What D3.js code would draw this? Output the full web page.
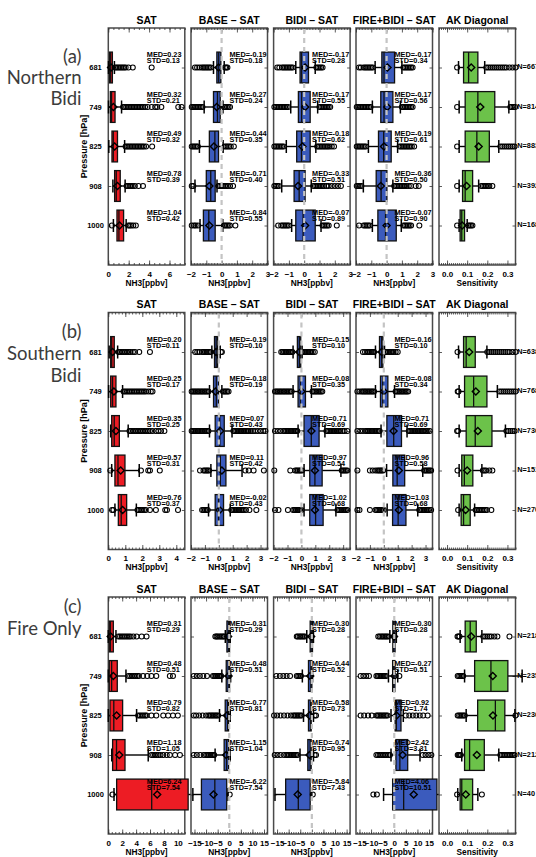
<!DOCTYPE html>
<html><head><meta charset="utf-8">
<script src="https://cdn.jsdelivr.net/npm/d3@7"></script>
<style>
html,body{margin:0;padding:0;background:#fff;}
svg{display:block;}
</style></head><body>
<script>
// ---------- labels ----------
const levels = ["681", "749", "825", "908", "1000"];
const panelTitles = ["SAT", "BASE \u2013 SAT", "BIDI \u2013 SAT", "FIRE+BIDI \u2013 SAT", "AK Diagonal"];
const xLabels = ["NH3[ppbv]", "NH3[ppbv]", "NH3[ppbv]", "NH3[ppbv]", "Sensitivity"];
const regionLabels = [["(a)", "Northern", "Bidi"], ["(b)", "Southern", "Bidi"], ["(c)", "Fire Only"]];

// ---------- axis ranges and ticks (per row: a, b, c) ----------
const satDomains = [[0, 7.5], [0, 4.5], [0, 11]];
const diffDomains = [[-2, 3], [-2, 3.5], [-16.5, 16.5]];
const akDomain = [-0.04, 0.34];
const satTicks = [[0, 2, 4, 6], [0, 1, 2, 3, 4], [0, 2, 4, 6, 8, 10]];
const diffTicks = [[-2, -1, 0, 1, 2, 3], [-2, -1, 0, 1, 2, 3], [-15, -10, -5, 0, 5, 10, 15]];
const akTicks = [0, 0.1, 0.2, 0.3];
const satMinorStep = [0.5, 0.2, 0.5];
const diffMinorStep = [0.1, 0.1, 1];
const akMinorStep = 0.01;

// ---------- (a) Northern Bidi ----------
// MED / STD labels for SAT, BASE-SAT, BIDI-SAT, FIRE+BIDI-SAT (levels 681..1000)
const northernMed = [
  [0.23, 0.32, 0.49, 0.78, 1.04],
  [-0.19, -0.27, -0.44, -0.71, -0.84],
  [-0.17, -0.17, -0.18, -0.33, -0.07],
  [-0.17, -0.17, -0.19, -0.36, -0.07]];
const northernStd = [
  [0.13, 0.21, 0.32, 0.39, 0.42],
  [0.18, 0.24, 0.35, 0.40, 0.55],
  [0.28, 0.55, 0.62, 0.51, 0.89],
  [0.34, 0.56, 0.61, 0.50, 0.90]];
const northernAkMed = [0.107, 0.153, 0.148, 0.09, 0.073];
const northernN = [667, 814, 883, 392, 168];
// box statistics: [whisker low, q1, q3, whisker high, mean]
const northernBoxes = [
  [[0.02, 0.12, 0.4, 0.6, 0.27], [0.02, 0.2, 0.66, 1.3, 0.5], [0.05, 0.36, 0.9, 1.6, 0.62], [0.45, 0.62, 1.17, 1.65, 0.9], [0.5, 0.85, 1.5, 1.75, 1.1]],
  [[-0.53, -0.31, -0.05, 0.17, -0.2], [-1.14, -0.53, -0.09, 0.09, -0.32], [-1.45, -0.8, -0.2, 0.1, -0.5], [-1.74, -1.0, -0.42, -0.3, -0.8], [-1.41, -1.19, -0.42, 0.08, -0.8]],
  [[-0.55, -0.27, 0.28, 0.72, 0.06], [-0.88, -0.38, 0.39, 0.88, 0.06], [-1.17, -0.49, 0.39, 0.76, -0.12], [-1.47, -0.66, 0.06, 0.46, -0.4], [-0.82, -0.55, 0.72, 1.1, 0.06]],
  [[-0.75, -0.31, 0.52, 1.0, 0.06], [-0.93, -0.38, 0.41, 0.9, 0.04], [-1.19, -0.53, 0.3, 0.72, -0.17], [-1.52, -0.68, 0.02, 0.41, -0.38], [-0.93, -0.57, 0.63, 0.96, 0.0]],
  [[0.057, 0.082, 0.153, 0.187, 0.12], [0.06, 0.09, 0.237, 0.307, 0.165], [0.06, 0.09, 0.21, 0.257, 0.157], [0.06, 0.077, 0.127, 0.157, 0.097], [0.06, 0.065, 0.087, 0.1, 0.075]]];
const northernOutliers = [
  [[0.65, 0.8, 0.95, 1.1, 1.25, 1.4, 1.55, 1.7, 1.97, 2.4, 4.25],
   [1.45, 1.6, 1.75, 1.9, 2.05, 2.2, 2.35, 2.5, 2.65, 2.8, 2.95, 3.1, 3.25, 3.4, 3.6, 3.85, 4.25, 4.6, 4.8, 5.2, 6.86, 7.19],
   [1.7, 1.85, 2.0, 2.15, 2.3, 2.45, 2.6, 2.75, 2.9, 3.05, 3.2, 3.35, 3.5, 3.7, 4.3],
   [1.8, 1.95, 2.1, 2.25, 2.4, 2.6, 2.96, 3.4],
   [0.35, 1.95, 2.1, 2.25, 2.45, 2.7]],
  [[-1.74, -1.6, -1.45, -1.3, -1.2, -1.1, -1.0, -0.9, -0.8, -0.7, 0.22, 0.3, 0.38],
   [-1.95, -1.85, -1.75, -1.65, -1.55, -1.45, -1.35, -1.25, 0.15, 0.25, 0.35, 0.45, 0.55],
   [-1.95, -1.85, -1.75, -1.65, -1.55, 0.2, 0.3, 0.4, 0.5, 0.6, 0.8],
   [-1.95, -1.85, -0.2, -0.1, 0.0, 0.1, 0.2, 0.3, 0.4, 0.55, 0.75],
   [-1.95, -1.8, -1.7, -1.55, 0.15, 0.25, 0.35, 0.45, 0.55, 0.9]],
  [[-1.76, -1.62, -1.45, -1.35, -1.25, -1.15, -1.05, -0.95, -0.85, -0.75, 0.8, 0.9, 1.0, 1.1, 1.2],
   [-1.95, -1.85, -1.75, -1.65, -1.55, -1.45, -1.35, -1.25, -1.15, -1.05, 1.0, 1.1, 1.2, 1.3, 1.4, 1.5, 1.6, 1.7],
   [-1.95, -1.85, -1.75, -1.65, -1.55, -1.45, -1.35, 0.85, 0.95, 1.05, 1.15, 1.25, 1.35, 1.45, 1.55, 1.65, 1.8, 1.95],
   [-1.95, -1.85, -1.75, -1.65, 0.6, 0.7, 0.8, 0.9, 1.0, 1.1, 1.2, 1.3, 1.45, 1.6, 1.8, 2.0, 2.2, 2.4],
   [-1.7, -1.5, -1.4, -1.3, -1.2, -1.1, -1.0, 1.2, 1.3, 1.4, 1.5, 1.6, 2.13]],
  [[-1.8, -1.68, -1.5, -1.4, -1.3, -1.2, -1.1, -1.0, -0.9, 1.1, 1.2, 1.3, 1.4, 1.5, 1.6, 1.7],
   [-1.95, -1.85, -1.75, -1.65, -1.55, -1.45, -1.35, -1.25, -1.15, -1.05, 1.0, 1.1, 1.2, 1.3, 1.4, 1.5, 1.6, 1.7],
   [-1.95, -1.85, -1.75, -1.65, -1.55, -1.45, -1.35, 0.85, 0.95, 1.05, 1.15, 1.25, 1.35, 1.45, 1.55, 1.65, 1.8],
   [-1.95, -1.85, -1.75, -1.65, 0.5, 0.6, 0.7, 0.8, 0.9, 1.0, 1.1, 1.2, 1.3, 1.45, 1.6, 1.9, 2.1],
   [-1.8, -1.5, -1.4, -1.3, -1.2, -1.1, 1.1, 1.2, 1.3, 1.4, 1.5, 1.6, 2.14]],
  [[0.05, 0.195, 0.205, 0.215, 0.225, 0.235, 0.245, 0.255, 0.265, 0.275, 0.285, 0.295, 0.31, 0.325, 0.34],
   [0.05, 0.315, 0.322, 0.33, 0.338],
   [0.05, 0.265, 0.275, 0.285, 0.295, 0.305, 0.315, 0.325, 0.335],
   [0.05, 0.17, 0.178, 0.186, 0.194, 0.202, 0.21, 0.225],
   [0.05, 0.105, 0.112, 0.119, 0.126]]];

// ---------- (b) Southern Bidi ----------
const southernMed = [
  [0.20, 0.25, 0.35, 0.57, 0.76],
  [-0.19, -0.18, 0.07, 0.11, -0.02],
  [-0.15, -0.08, 0.71, 0.97, 1.02],
  [-0.16, -0.08, 0.71, 0.96, 1.03]];
const southernStd = [
  [0.11, 0.17, 0.25, 0.31, 0.37],
  [0.10, 0.19, 0.43, 0.42, 0.43],
  [0.10, 0.35, 0.69, 0.54, 0.68],
  [0.10, 0.34, 0.69, 0.58, 0.68]];
const southernAkMed = [0.095, 0.132, 0.14, 0.086, 0.082];
const southernN = [638, 768, 736, 151, 270];
const southernBoxes = [
  [[0.05, 0.14, 0.35, 0.55, 0.25], [0.02, 0.14, 0.45, 0.84, 0.33], [0.14, 0.2, 0.65, 1.17, 0.45], [0.2, 0.39, 0.98, 1.82, 0.73], [0.39, 0.59, 1.08, 1.65, 0.84]],
  [[-0.5, -0.31, -0.09, 0.1, -0.2], [-0.67, -0.38, -0.02, 0.22, -0.24], [-0.67, -0.26, 0.39, 0.95, 0.1], [-0.57, -0.14, 0.51, 1.67, 0.22], [-0.74, -0.26, 0.34, 0.82, 0.05]],
  [[-0.6, -0.29, -0.05, 0.05, -0.15], [-0.6, -0.24, 0.29, 0.72, 0.0], [-0.24, 0.19, 1.27, 1.69, 0.72], [0.19, 0.6, 1.49, 2.84, 0.97], [0.19, 0.6, 1.56, 2.48, 0.97]],
  [[-0.6, -0.31, -0.07, 0.05, -0.16], [-0.6, -0.24, 0.29, 0.77, 0.0], [-0.2, 0.22, 1.27, 1.67, 0.7], [0.2, 0.65, 1.5, 2.8, 1.08], [0.24, 0.63, 1.59, 2.44, 1.08]],
  [[0.057, 0.082, 0.14, 0.198, 0.11], [0.06, 0.087, 0.198, 0.25, 0.143], [0.06, 0.095, 0.223, 0.29, 0.153], [0.06, 0.073, 0.128, 0.173, 0.1], [0.06, 0.07, 0.115, 0.137, 0.092]]];
const southernOutliers = [
  [[0.6, 0.7, 0.8, 0.9, 1.0, 1.1, 1.2, 1.3, 1.45, 1.57, 1.82, 2.45],
   [0.9, 1.0, 1.1, 1.2, 1.3, 1.4, 1.5, 1.6, 1.7, 1.8, 1.9, 2.0, 2.1, 2.2, 2.35, 2.5, 2.6],
   [1.25, 1.35, 1.45, 1.55, 1.65, 1.75, 1.85, 1.95, 2.05, 2.15, 2.25, 2.35, 2.45, 2.6, 2.8, 2.95, 3.1, 3.3],
   [0.12, 1.92, 2.35, 2.45, 3.03],
   [0.22, 0.3, 1.72, 1.8, 1.9, 2.0, 2.1, 2.2, 2.45, 2.8, 3.35, 3.45, 4.1]],
  [[-1.7, -1.55, -1.4, -1.2, -1.1, -1.0, -0.9, -0.8, -0.7, -0.6, 0.15, 0.22],
   [-1.95, -1.85, -1.75, -1.65, -1.55, -1.45, -1.35, -1.25, -1.15, -1.05, -0.95, -0.85, -0.75, 0.3, 0.4, 0.5, 0.6, 0.7],
   [-1.95, -1.85, -1.75, -1.65, -1.55, -1.45, -1.35, -1.25, -1.15, -1.05, -0.95, -0.85, -0.75, 1.05, 1.15, 1.25, 1.35, 1.45, 1.55, 1.65, 1.75, 1.85, 1.95, 2.05, 2.15, 2.3, 2.45, 2.6, 2.8, 3.0, 3.2, 3.35],
   [-1.35, -1.1, -1.0, -0.9, -0.8, -0.7, 1.91, 2.15, 2.5, 3.24],
   [-1.2, -1.1, -1.0, -0.9, -0.8, 0.9, 1.0, 1.1, 1.2, 1.3, 1.4, 1.5, 1.6, 1.7, 1.8, 1.95, 2.2, 2.7]],
  [[-1.45, -1.35, -1.25, -1.15, -1.05, -0.95, -0.85, -0.75, -0.65, 0.1, 0.2, 0.3, 0.4, 0.5, 0.6, 0.7, 0.82, 0.96],
   [-1.9, -1.8, -1.7, -1.6, -1.5, -1.4, -1.3, -1.2, -1.1, -1.0, -0.9, -0.8, -0.7, 0.8, 0.9, 1.0, 1.1, 1.2, 1.3, 1.4, 1.5],
   [-1.9, -1.7, -1.5, -1.3, -1.2, -1.1, -1.0, -0.9, -0.8, -0.7, -0.6, -0.5, -0.4, -0.3, 1.8, 1.9, 2.0, 2.1, 2.2, 2.3, 2.4, 2.5, 2.6, 2.7, 2.8, 2.95, 3.1, 3.3],
   [-1.95, -0.8, -0.45, -0.35, -0.25, -0.15, -0.05, 0.05, 2.9, 3.0, 3.1, 3.2, 3.3],
   [-1.9, -1.65, -0.97, -0.6, -0.5, -0.4, -0.3, -0.2, -0.1, 0.0, 2.6, 2.7, 2.8, 2.9, 3.0, 3.1, 3.2, 3.3]],
  [[-1.5, -1.35, -1.2, -1.1, -1.0, -0.9, -0.8, -0.7, 0.1, 0.2, 0.3, 0.4, 0.5, 0.6, 0.7, 0.85, 1.0],
   [-1.9, -1.75, -1.6, -1.5, -1.4, -1.3, -1.2, -1.1, -1.0, -0.9, -0.8, -0.7, 0.85, 0.95, 1.05, 1.15, 1.25, 1.35, 1.45, 1.55, 1.65, 1.75],
   [-1.9, -1.7, -1.5, -1.3, -1.2, -1.1, -1.0, -0.9, -0.8, -0.7, -0.6, -0.5, -0.4, -0.3, 1.8, 1.9, 2.0, 2.1, 2.2, 2.3, 2.4, 2.5, 2.6, 2.7, 2.8, 2.9, 3.05, 3.15, 3.3],
   [-1.9, -1.0, -0.8, -0.6, -0.45, -0.35, -0.25, -0.15, -0.05, 2.9, 3.0, 3.1, 3.2, 3.3, 3.4],
   [-1.9, -1.75, -1.0, -0.6, -0.5, -0.4, -0.3, -0.2, -0.1, 0.0, 2.55, 2.65, 2.75, 2.85, 2.95, 3.05, 3.15, 3.25, 3.4]],
  [[0.052, 0.2, 0.21, 0.22, 0.23, 0.24, 0.25, 0.26, 0.27, 0.28, 0.29, 0.3, 0.31, 0.325, 0.34],
   [0.053, 0.057, 0.26, 0.27, 0.28, 0.29, 0.3, 0.31, 0.32, 0.33, 0.34],
   [0.05, 0.055, 0.295, 0.305, 0.315, 0.325, 0.335],
   [0.052, 0.178, 0.186, 0.194, 0.21, 0.225],
   [0.055, 0.142, 0.15, 0.158, 0.166, 0.174, 0.182, 0.19, 0.198, 0.22]]];

// ---------- (c) Fire Only ----------
const fireMed = [
  [0.31, 0.48, 0.79, 1.18, 6.24],
  [-0.31, -0.48, -0.77, -1.15, -6.22],
  [-0.30, -0.44, -0.58, -0.74, -5.84],
  [-0.30, -0.27, 0.92, 2.42, 4.06]];
const fireStd = [
  [0.29, 0.51, 0.82, 1.05, 7.54],
  [0.29, 0.51, 0.81, 1.04, 7.54],
  [0.28, 0.52, 0.73, 0.95, 7.43],
  [0.28, 0.51, 1.74, 3.31, 10.51]];
const fireAkMed = [0.115, 0.218, 0.24, 0.112, 0.073];
const fireN = [218, 235, 236, 212, 40];
const fireBoxes = [
  [[0.0, 0.14, 0.72, 1.1, 0.35], [0.0, 0.14, 1.29, 2.54, 0.72], [0.0, 0.24, 2.06, 4.07, 1.2], [0.5, 0.62, 2.4, 5.74, 1.58], [0.82, 1.2, 11.48, 12.1, 7.03]],
  [[-1.7, -1.0, 0.13, 0.43, -0.5], [-3.2, -1.3, 0.13, 0.6, -0.3], [-4.2, -1.74, -0.3, 0.43, -1.0], [-6.1, -2.2, -0.3, 0.43, -1.3], [-15.7, -12.0, -1.1, -0.5, -6.8]],
  [[-2.2, -0.72, 0.27, 0.7, -0.3], [-4.1, -1.45, 0.0, 0.3, -0.7], [-3.6, -1.45, -0.3, 0.7, -1.0], [-5.1, -1.74, -0.3, 0.7, -1.0], [-15.9, -11.3, -0.72, 0.0, -6.1]],
  [[-1.9, -0.6, 0.35, 0.9, -0.1], [-2.5, -0.7, 0.3, 1.5, 0.1], [-1.4, 0.4, 2.9, 3.9, 1.0], [-1.4, 0.72, 5.8, 11.1, 3.6], [-4.6, -0.7, 18.4, 28, 8.4]],
  [[0.065, 0.09, 0.145, 0.173, 0.12], [0.087, 0.137, 0.302, 0.373, 0.227], [0.095, 0.152, 0.287, 0.337, 0.228], [0.073, 0.087, 0.185, 0.257, 0.148], [0.053, 0.065, 0.127, 0.153, 0.093]]];
const fireOutliers = [
  [[1.45, 1.7, 1.95, 2.2, 2.45, 2.7, 2.95, 3.2, 3.6, 4.07, 4.8, 5.5],
   [2.9, 3.15, 3.4, 3.65, 3.9, 4.15, 4.4, 5.0, 5.6, 6.2, 6.9, 8.85, 9.3],
   [4.3, 4.55, 4.8, 5.05, 5.3, 5.5, 6.2, 6.9, 7.9, 8.6, 9.3, 10.0],
   [6.2, 6.45, 6.7, 6.95, 7.2, 7.5, 7.9, 8.4, 8.85, 9.6, 10.3],
   [0.6]],
  [[-6.0, -5.5, -5.0, -4.4, -3.8, -3.2, -2.6, -2.2],
   [-15.3, -14.0, -12.7, -11.2, -9.6, -7.0, -6.4, -5.8, -5.2, -4.6, -4.0, -3.5],
   [-15.3, -14.3, -13.0, -11.5, -10.0, -9.0, -8.4, -7.8, -7.2, -6.6, -6.0, -5.4, -4.8],
   [-15.3, -14.0, -12.5, -11.0, -10.0, -9.4, -8.8, -8.2, -7.6, -7.0, -6.5],
   [0.2]],
  [[-6.5, -6.0, -5.3, -4.8, -4.2, -3.6, -3.0],
   [-15.3, -13.8, -12.3, -10.9, -9.4, -6.5, -5.9, -5.3, -4.7],
   [-16.3, -15.0, -13.5, -12.0, -10.5, -9.0, -8.0, -7.4, -6.8, -6.2, -5.6, -5.0, -4.4, 1.2, 1.8],
   [-16.0, -14.8, -13.5, -12.0, -11.0, -10.4, -9.8, -9.2, -8.6, -8.0, -7.4, -6.8, -6.2, 1.2, 1.8],
   [0.4]],
  [[-6.9, -6.3, -5.6, -5.0, -4.4, -3.8, -3.2, -2.6],
   [-14.5, -13.3, -12.1, -10.9, -7.7, -7.1, -6.5, -5.9, -5.3, -4.7, -4.1, -3.5, 2.2],
   [-14.5, -13.0, -11.3, -9.7, -7.7, -7.1, -6.5, -5.9, -5.3, -4.7, -4.1, -3.5, -2.9, 5.0, 6.5, 8.0, 9.5, 11.0, 12.5, 14.4],
   [-7.7, -7.0, -6.3, -5.5, -4.8, -4.1, -3.4, -2.6, -1.9, 12.3, 13.5, 14.8, 16.0],
   [-9.0, -7.5]],
  [[0.052, 0.057, 0.062, 0.18, 0.19, 0.2, 0.21, 0.22, 0.235, 0.25, 0.31],
   [0.053, 0.06, 0.067, 0.074, 0.08],
   [0.053, 0.06, 0.067, 0.074, 0.081, 0.088, 0.34],
   [0.053, 0.058, 0.063, 0.068, 0.265, 0.273, 0.281, 0.289, 0.297, 0.305, 0.313, 0.321, 0.329, 0.335],
   [0.05, 0.173]]];

// ---------- layout ----------
const W = 536, H = 857;
const panelLeft = [108.3, 191, 273.6, 356, 439];
const panelW = 76.5;
const rowTop = [28, 312.5, 597];
const rowH = 237;
const fills = ["#ed1c24", "#3b5bbd", "#3b5bbd", "#3b5bbd", "#6cc24a"];
const labelBaselines = [[63, 84, 105], [337.5, 360, 381.5], [613, 635]];

const rows = [
  {med: northernMed, std: northernStd, akMed: northernAkMed, n: northernN, boxes: northernBoxes, out: northernOutliers},
  {med: southernMed, std: southernStd, akMed: southernAkMed, n: southernN, boxes: southernBoxes, out: southernOutliers},
  {med: fireMed, std: fireStd, akMed: fireAkMed, n: fireN, boxes: fireBoxes, out: fireOutliers}];

const svg = d3.select("body").append("svg")
  .attr("width", W).attr("height", H)
  .attr("font-family", "'Liberation Sans', Arial, Helvetica, sans-serif");

const fmtInt = d3.format("d");
const fmtAk = d3.format(".1f");
const fmt2 = d3.format(".2f");

function minorValues(dom, step) {
  const k0 = Math.ceil(dom[0] / step - 1e-9), k1 = Math.floor(dom[1] / step + 1e-9);
  return d3.range(k0, k1 + 1).map(k => +(k * step).toFixed(4));
}

rows.forEach((row, r) => {
  const top = rowTop[r];
  const y = d3.scaleLinear().domain([0, 6]).range([top, top + rowH]);
  const unit = y(1) - y(0);
  const boxHalf = unit * 0.39;
  const capHalf = unit * 0.165;

  // region label on the left
  const lg = svg.append("g").attr("font-family", "Lato, 'Open Sans', sans-serif")
    .attr("font-size", 18.5).attr("fill", "#3c3c3c").attr("text-anchor", "end");
  regionLabels[r].forEach((t, i) => lg.append("text").attr("x", 81.5).attr("y", labelBaselines[r][i]).text(t));

  // y-axis title and pressure labels
  svg.append("text")
    .attr("transform", `translate(86.5,${y(3)}) rotate(-90)`)
    .attr("text-anchor", "middle").attr("font-weight", "bold").attr("font-size", 9)
    .text("Pressure [hPa]");
  svg.append("g").selectAll("text").data(levels).join("text")
    .attr("x", 95.5).attr("y", (d, i) => y(i + 1) + 2.6)
    .attr("text-anchor", "middle").attr("font-weight", "bold").attr("font-size", 7.5)
    .text(d => d);

  for (let p = 0; p < 5; p++) {
    const L = panelLeft[p];
    const dom = p === 0 ? satDomains[r] : (p === 4 ? akDomain : diffDomains[r]);
    const ticks = p === 0 ? satTicks[r] : (p === 4 ? akTicks : diffTicks[r]);
    const minorStep = p === 0 ? satMinorStep[r] : (p === 4 ? akMinorStep : diffMinorStep[r]);
    const x = d3.scaleLinear().domain(dom).range([L, L + panelW]);
    const g = svg.append("g");

    // title
    g.append("text").attr("x", L + panelW / 2).attr("y", top - 4.5)
      .attr("text-anchor", "middle").attr("font-weight", "bold").attr("font-size", 10.5)
      .text(panelTitles[p]);

    // frame
    g.append("rect").attr("x", L).attr("y", top).attr("width", panelW).attr("height", rowH)
      .attr("fill", "#fff").attr("stroke", "#4a4a4a").attr("stroke-width", 1.5);

    // x ticks (inward, top and bottom)
    const minor = minorValues(dom, minorStep);
    const axB = g.append("g").attr("transform", `translate(0,${top + rowH})`)
      .call(d3.axisBottom(x).tickValues(minor).tickSize(-2).tickFormat(""));
    const axB2 = g.append("g").attr("transform", `translate(0,${top + rowH})`)
      .call(d3.axisBottom(x).tickValues(ticks).tickSize(-4.5).tickPadding(6.3)
        .tickFormat(p === 4 ? fmtAk : fmtInt));
    const axT = g.append("g").attr("transform", `translate(0,${top})`)
      .call(d3.axisTop(x).tickValues(minor).tickSize(-2).tickFormat(""));
    const axT2 = g.append("g").attr("transform", `translate(0,${top})`)
      .call(d3.axisTop(x).tickValues(ticks).tickSize(-4.5).tickFormat(""));
    [axB, axB2, axT, axT2].forEach(a => {
      a.select(".domain").remove();
      a.selectAll("line").attr("stroke", "#333").attr("stroke-width", 0.8);
    });
    axB2.selectAll("text").attr("font-size", 8).attr("font-weight", "bold")
      .attr("font-family", "'Liberation Sans', Arial, sans-serif").attr("fill", "#000");

    // y ticks (inward, left and right)
    const ayL = g.append("g").attr("transform", `translate(${L},0)`)
      .call(d3.axisLeft(y).tickValues([1, 2, 3, 4, 5]).tickSize(-3).tickFormat(""));
    const ayR = g.append("g").attr("transform", `translate(${L + panelW},0)`)
      .call(d3.axisRight(y).tickValues([1, 2, 3, 4, 5]).tickSize(-3).tickFormat(""));
    [ayL, ayR].forEach(a => { a.select(".domain").remove(); a.selectAll("line").attr("stroke", "#333").attr("stroke-width", 0.8); });

    // x-axis title
    g.append("text").attr("x", L + panelW / 2).attr("y", top + rowH + 20.5)
      .attr("text-anchor", "middle").attr("font-weight", "bold").attr("font-size", 8.3)
      .text(xLabels[p]);

    // boxes
    const boxes = row.boxes[p];
    const meds = p === 4 ? row.akMed : row.med[p];
    boxes.forEach((b, i) => {
      const [lo, q1, q3, hi, mean] = b;
      const cy = y(i + 1);
      const bg = g.append("g");
      // whiskers
      bg.append("line").attr("x1", x(lo)).attr("x2", x(q1)).attr("y1", cy).attr("y2", cy)
        .attr("stroke", "#000").attr("stroke-width", 1.4);
      bg.append("line").attr("x1", x(q3)).attr("x2", x(hi)).attr("y1", cy).attr("y2", cy)
        .attr("stroke", "#000").attr("stroke-width", 1.4);
      [lo, hi].forEach(v => bg.append("line").attr("x1", x(v)).attr("x2", x(v))
        .attr("y1", cy - capHalf).attr("y2", cy + capHalf).attr("stroke", "#000").attr("stroke-width", 1.5));
      // box
      bg.append("rect").attr("x", x(q1)).attr("y", cy - boxHalf)
        .attr("width", x(q3) - x(q1)).attr("height", 2 * boxHalf)
        .attr("fill", fills[p]).attr("stroke", "#111").attr("stroke-width", 1.3);
      // median
      bg.append("line").attr("x1", x(meds[i])).attr("x2", x(meds[i]))
        .attr("y1", cy - boxHalf).attr("y2", cy + boxHalf).attr("stroke", "#111").attr("stroke-width", 1.3);
      // outliers
      bg.selectAll("circle").data(row.out[p][i]).join("circle")
        .attr("cx", d => x(d)).attr("cy", cy).attr("r", 2.5)
        .attr("fill", "none").attr("stroke", "#000").attr("stroke-width", 1.05);
      // mean
      bg.append("path").attr("d", d3.symbol(d3.symbolDiamond2, 32)())
        .attr("transform", `translate(${x(mean)},${cy})`)
        .attr("fill", "none").attr("stroke", "#000").attr("stroke-width", 1.4);
    });

    // zero reference line
    if (p >= 1 && p <= 3) {
      g.append("line").attr("x1", x(0)).attr("x2", x(0)).attr("y1", top + 1).attr("y2", top + rowH - 1)
        .attr("stroke", "#c4c4c4").attr("stroke-width", 2.2).attr("stroke-dasharray", "5,4");
    }

    // MED / STD annotations
    if (p < 4) {
      const tg = g.append("g").attr("font-weight", "bold").attr("font-size", 7.3).attr("fill", "#000");
      row.med[p].forEach((m, i) => {
        const cy = y(i + 1);
        tg.append("text").attr("x", L + 38.5).attr("y", cy - 10.3).text("MED=" + fmt2(m).replace("\u2212", "-"));
        tg.append("text").attr("x", L + 38.5).attr("y", cy - 4.2).text("STD=" + fmt2(row.std[p][i]));
      });
    }
  }

  // sample counts
  svg.append("g").selectAll("text").data(row.n).join("text")
    .attr("x", 517.3).attr("y", (d, i) => y(i + 1) + 1.8)
    .attr("font-weight", "bold").attr("font-size", 7.3)
    .text(d => "N=" + d);
});
</script>
</body></html>
